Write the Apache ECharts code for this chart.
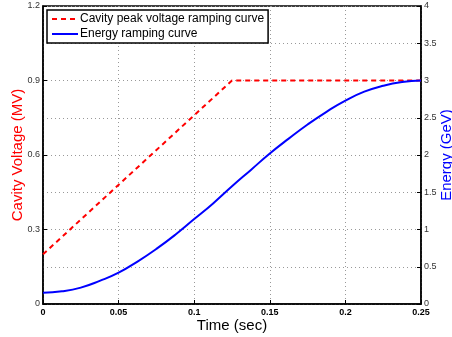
<!DOCTYPE html>
<html>
<head>
<meta charset="utf-8">
<script src="https://cdn.jsdelivr.net/npm/echarts@6/dist/echarts.min.js"></script>
<style>
  html, body { margin: 0; padding: 0; background: #fff; }
  #chart { width: 452px; height: 337px; }
</style>
</head>
<body>
<div id="chart"></div>
<script>
// voltage ramp (MV) vs time (sec)
const voltTime = [0, 0.125, 0.25];
const voltValues = [0.2, 0.9, 0.9];

// energy ramp (GeV) vs time (sec)
const energyTime = [0, 0.0125, 0.025, 0.0375, 0.05, 0.0625, 0.075, 0.0875, 0.1, 0.1125, 0.125,
    0.1375, 0.15, 0.1625, 0.175, 0.1875, 0.2, 0.2125, 0.225, 0.2375, 0.25];
const energyValues = [0.15, 0.17, 0.22, 0.31, 0.42, 0.57, 0.74, 0.93, 1.14, 1.35, 1.58,
    1.80, 2.02, 2.22, 2.41, 2.58, 2.73, 2.85, 2.93, 2.98, 3.0];

const font = 'Liberation Sans, Arial, sans-serif';

const option = {
    animation: false,
    grid: {
        left: 43, right: 31, top: 6, bottom: 33,
        outerBoundsMode: 'none',
        containLabel: false,
        show: true, borderColor: '#000', borderWidth: 1.5
    },
    legend: {
        orient: 'vertical',
        left: 47, top: 10,
        backgroundColor: '#fff',
        borderColor: '#000',
        borderWidth: 1.5,
        borderRadius: 0,
        padding: [3, 4, 3, 4],
        itemGap: 3,
        itemWidth: 26,
        itemHeight: 10,
        itemStyle: {opacity: 0},
        textStyle: {fontFamily: font, fontSize: 12, color: '#000', padding: [0, 0, 0, -3]},
        data: ['Cavity peak voltage ramping curve', 'Energy ramping curve']
    },
    xAxis: {
        type: 'value',
        min: 0, max: 0.25, interval: 0.05,
        name: 'Time (sec)',
        nameLocation: 'middle',
        nameGap: 14,
        nameMoveOverlap: false,
        nameTextStyle: {fontFamily: font, fontSize: 15, color: '#000'},
        axisLine: {lineStyle: {color: '#000', width: 1.5}},
        axisTick: {inside: true, length: 4, lineStyle: {color: '#000'}},
        axisLabel: {fontFamily: font, fontSize: 9, fontWeight: 'bold', color: '#000', margin: 4},
        splitLine: {show: true, lineStyle: {color: '#999', type: [1, 3]}}
    },
    yAxis: [
        {
            type: 'value',
            min: 0, max: 1.2, interval: 0.3,
            name: 'Cavity Voltage (MV)',
            nameLocation: 'middle',
            nameGap: 18,
            nameMoveOverlap: false,
            nameTextStyle: {fontFamily: font, fontSize: 15, color: '#ff0000'},
            axisLine: {lineStyle: {color: '#000', width: 1.5}},
            axisTick: {inside: true, length: 4, lineStyle: {color: '#000'}},
            axisLabel: {fontFamily: font, fontSize: 9, color: '#333', margin: 3},
            splitLine: {show: false}
        },
        {
            type: 'value',
            min: 0, max: 4, interval: 0.5,
            name: 'Energy (GeV)',
            nameLocation: 'middle',
            nameGap: 18,
            nameRotate: 90,
            nameMoveOverlap: false,
            nameTextStyle: {fontFamily: font, fontSize: 15, color: '#0000ff'},
            axisLine: {lineStyle: {color: '#000', width: 1.5}},
            axisTick: {inside: true, length: 4, lineStyle: {color: '#000'}},
            axisLabel: {fontFamily: font, fontSize: 9, color: '#333', margin: 3},
            splitLine: {show: true, lineStyle: {color: '#999', type: [1, 3]}}
        }
    ],
    series: [
        {
            name: 'Cavity peak voltage ramping curve',
            type: 'line',
            yAxisIndex: 0,
            symbol: 'none',
            data: voltTime.map((t, i) => [t, voltValues[i]]),
            itemStyle: {color: '#ff0000'},
            lineStyle: {color: '#ff0000', width: 2, type: [5, 4]},
            z: 3
        },
        {
            name: 'Energy ramping curve',
            type: 'line',
            yAxisIndex: 1,
            symbol: 'none',
            smooth: true,
            data: energyTime.map((t, i) => [t, energyValues[i]]),
            itemStyle: {color: '#0000ff'},
            lineStyle: {color: '#0000ff', width: 2},
            z: 4
        }
    ]
};

const chart = echarts.init(document.getElementById('chart'));
chart.setOption(option);
</script>
</body>
</html>
